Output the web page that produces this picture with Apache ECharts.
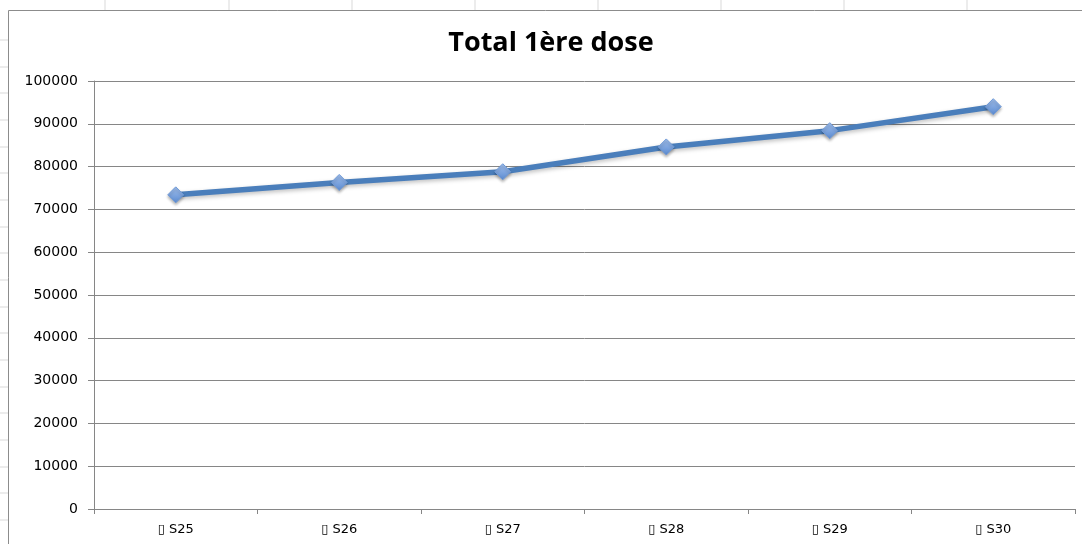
<!DOCTYPE html>
<html><head><meta charset="utf-8">
<script src="https://cdn.jsdelivr.net/npm/echarts@6/dist/echarts.min.js"></script>
<style>html,body{margin:0;padding:0;background:#fff}#c{width:1082px;height:544px}</style>
</head><body><div id="c"></div>
<script>
var categories = ['\u25AF S25','\u25AF S26','\u25AF S27','\u25AF S28','\u25AF S29','\u25AF S30'];
var values = [73400, 76300, 78800, 84600, 88400, 94000];
var yTicks = [0,10000,20000,30000,40000,50000,60000,70000,80000,90000,100000];

var bg = [];
[105,229,352,475,598,721,844,967].forEach(function(x){
  bg.push({type:'line',shape:{x1:x,y1:0,x2:x,y2:10},style:{stroke:'#d9d9d9',lineWidth:1}});
});
[40,67,93,120,147,173,200,227,253,280,307,333,360,387,413,440,467,493,520].forEach(function(y){
  bg.push({type:'line',shape:{x1:0,y1:y,x2:8,y2:y},style:{stroke:'#d9d9d9',lineWidth:1}});
});
bg.push({type:'rect',shape:{x:8.5,y:10.5,width:1090,height:600},style:{fill:'none',stroke:'#8c8c8c',lineWidth:1}});
bg.push({type:'text',x:551,y:43,style:{text:'Total 1ère dose',font:'bold 27px "Open Sans"',fill:'#000',align:'center',verticalAlign:'middle'}});

var chart = echarts.init(document.getElementById('c'));
chart.setOption({
  animation:false,
  graphic: bg,
  grid:{left:94,right:7,top:81,bottom:35},
  xAxis:{type:'category',data:categories,boundaryGap:true,
    axisLine:{lineStyle:{color:'#868686',width:1}},
    axisTick:{show:true,length:5,lineStyle:{color:'#868686'}},
    axisLabel:{color:'#000',fontFamily:'DejaVu Sans',fontSize:13,margin:14}},
  yAxis:{type:'value',min:0,max:100000,interval:10000,
    axisLine:{show:true,lineStyle:{color:'#868686',width:1}},
    axisTick:{show:true,length:6,lineStyle:{color:'#868686'}},
    axisLabel:{color:'#000',fontFamily:'DejaVu Sans',fontSize:14,margin:16,
      formatter:function(v){return yTicks.indexOf(v)>=0?String(v):'';}},
    splitLine:{lineStyle:{color:'#868686',width:1}}},
  series:[{type:'line',data:values,symbol:'diamond',symbolSize:16,
    lineStyle:{color:'#4a7ebb',width:5.5,shadowColor:'rgba(0,0,0,0.25)',shadowBlur:4,shadowOffsetY:2},
    itemStyle:{color:new echarts.graphic.LinearGradient(0,0,0,1,[{offset:0,color:'#a3c1ee'},{offset:1,color:'#5a8ad0'}]),
      borderColor:'#6f9ad8',borderWidth:1,shadowColor:'rgba(0,0,0,0.3)',shadowBlur:3,shadowOffsetY:2}}]
});
</script></body></html>
